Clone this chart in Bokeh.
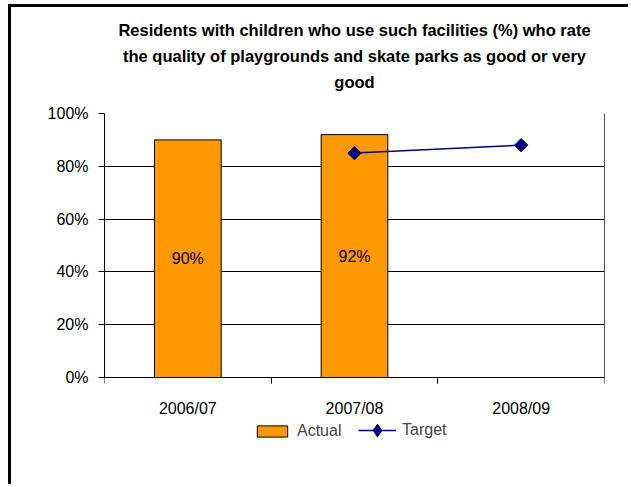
import math
from bokeh.plotting import figure
from bokeh.models import (ColumnDataSource, FixedTicker, Legend, LegendItem, Title,
                          PrintfTickFormatter, Range1d, LinearAxis)
from bokeh.embed import file_html
from bokeh.resources import INLINE
from bokeh.core.properties import value

# ---- data ----
categories = ["2006/07", "2007/08", "2008/09"]
actual_years = ["2006/07", "2007/08"]
actual = [90, 92]
target_years = ["2007/08", "2008/09"]
target = [85, 88]
y_ticks = [0, 20, 40, 60, 80, 100]
title_lines = ["Residents with children who use such facilities (%) who rate",
               "the quality of playgrounds and skate parks as good or very",
               "good"]

FONT = "Liberation Sans"

ax = [categories.index(c) + 0.5 for c in actual_years]
tx = [categories.index(c) + 0.5 for c in target_years]

bar_src = ColumnDataSource(dict(x=ax, top=actual, mid=[v / 2 for v in actual],
                                lab=[f"{v}%" for v in actual]))
tgt_src = ColumnDataSource(dict(x=tx, y=target))

# frame spans from page y=113 (100%) down to page y=477; 0% sits at page y=377
Y_LOW = -100 * 100 / 264.0

p = figure(width=620, height=480, output_backend="svg", toolbar_location=None,
           x_range=Range1d(0, len(categories)), y_range=Range1d(Y_LOW, 100),
           min_border_left=93, min_border_right=27, min_border_top=106,
           min_border_bottom=10)
p.styles = {"margin-left": "8px", "margin-top": "4px",
            "border-left": "3px solid black", "border-top": "3px solid black"}

p.title = None
# spacer between the plot area and the title
p.add_layout(Title(text=" ", text_font_size="1px", standoff=17), "above")
for line in reversed(title_lines):
    p.add_layout(Title(text=line, align="center", text_font=FONT,
                       text_font_size="16.5px", text_font_style="bold",
                       text_color="black", standoff=6), "above")

p.background_fill_color = "white"
p.border_fill_color = "white"
p.outline_line_color = None

bars = p.vbar(x="x", top="top", width=0.4, source=bar_src, fill_color="#FF9900",
              line_color="black", line_width=1)
p.text(x="x", y="mid", text="lab", source=bar_src, text_align="center",
       text_baseline="middle", text_font=value(FONT), text_font_size="16px",
       text_color="black")
ln = p.line(x="x", y="y", source=tgt_src, line_color="#000080", line_width=1.5)
mk = p.scatter(x="x", y="y", source=tgt_src, marker="square", angle=math.pi / 4,
               size=9.5, fill_color="#000080", line_color="#000080")
# legend proxy for the target marker (not drawn in the plot area)
mk_proxy = p.scatter(x=[float("nan")], y=[float("nan")], marker="diamond",
                     fill_color="#000080", line_color="#000080")

# grid
p.xgrid.visible = False
p.ygrid.ticker = FixedTicker(ticks=y_ticks)
p.ygrid.grid_line_color = "black"
p.ygrid.grid_line_width = 1

# x axis, sitting at 0%
p.xaxis.fixed_location = 0
p.xaxis.ticker = FixedTicker(ticks=[i + 0.5 for i in range(len(categories))],
                             minor_ticks=list(range(len(categories) + 1)))
p.xaxis.major_label_overrides = {i + 0.5: c for i, c in enumerate(categories)}
p.xaxis.major_tick_out = 0
p.xaxis.major_tick_in = 0
p.xaxis.minor_tick_out = 6
p.xaxis.minor_tick_in = 0
p.xaxis.minor_tick_line_color = "black"
p.xaxis.axis_line_color = "black"
p.xaxis.major_label_text_font = FONT
p.xaxis.major_label_text_font_size = "16px"
p.xaxis.major_label_text_color = "black"
p.xaxis.major_label_standoff = 16

# y axis
p.yaxis.bounds = (0, 100)
p.yaxis.ticker = FixedTicker(ticks=y_ticks)
p.yaxis.formatter = PrintfTickFormatter(format="%d%%")
p.yaxis.major_tick_out = 6
p.yaxis.major_tick_in = 0
p.yaxis.minor_tick_out = 0
p.yaxis.minor_tick_in = 0
p.yaxis.major_tick_line_color = "black"
p.yaxis.axis_line_color = "black"
p.yaxis.major_label_text_font = FONT
p.yaxis.major_label_text_font_size = "16px"
p.yaxis.major_label_text_color = "black"
p.yaxis.major_label_standoff = 10

# right border of the plot area
rax = LinearAxis(bounds=(0, 100), ticker=FixedTicker(ticks=[]),
                 major_tick_out=0, major_tick_in=0, minor_tick_out=0, minor_tick_in=0,
                 axis_line_color="#555555", major_label_text_font_size="0px")
p.add_layout(rax, "right")

# legends
leg_a = Legend(items=[LegendItem(label="Actual", renderers=[bars])],
               location=(149, 37), orientation="horizontal",
               glyph_width=38, glyph_height=14, label_height=14, label_standoff=6,
               padding=0, margin=0, border_line_color=None, background_fill_alpha=0,
               label_text_font=FONT, label_text_font_size="16px")
leg_b = Legend(items=[LegendItem(label="Target", renderers=[ln, mk_proxy])],
               location=(254, 31), orientation="horizontal",
               glyph_width=38, glyph_height=32, label_standoff=6,
               padding=0, margin=0, border_line_color=None, background_fill_alpha=0,
               label_text_font=FONT, label_text_font_size="16px")
p.add_layout(leg_a, "center")
p.add_layout(leg_b, "center")

open("out.html", "w").write(file_html(p, INLINE))
